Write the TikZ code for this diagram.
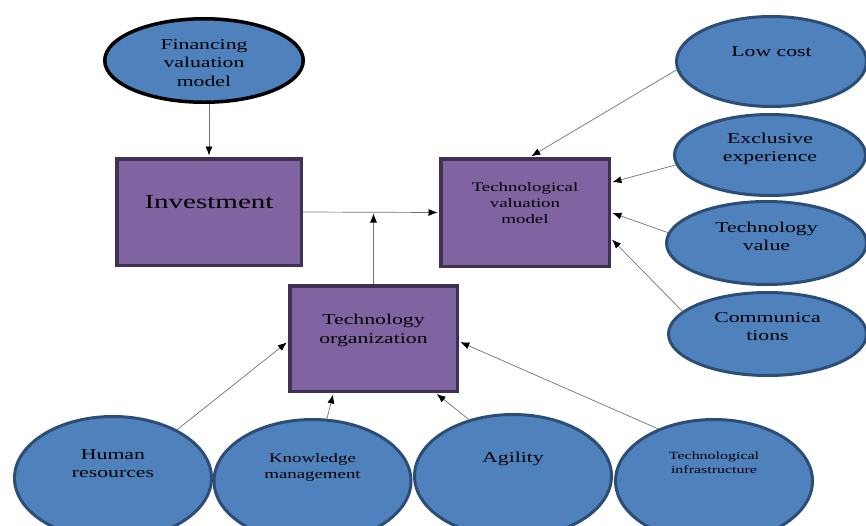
\documentclass[tikz,border=0pt]{standalone}
\usepackage{fontspec}
\setmainfont[FakeStretch=1.45]{Liberation Serif}
\usetikzlibrary{shapes.geometric,arrows.meta}
\definecolor{bubfill}{HTML}{4F81BD}
\definecolor{bubedge}{HTML}{2C4D75}
\definecolor{boxfill}{HTML}{8064A2}
\definecolor{boxedge}{HTML}{3F3151}
\begin{document}
\begin{tikzpicture}[x=1pt,y=-1pt,
	arrow/.style={>={Latex[length=9pt,width=7pt,black]},->,draw=black!55,line width=0.7pt,shorten >=1.5pt},
	bubble/.style={ellipse,draw=bubedge,line width=3pt,fill=bubfill,inner sep=0pt},
	panel/.style={rectangle,draw=boxedge,line width=3.5pt,fill=boxfill,inner sep=0pt},
	txt/.style={align=center,inner sep=0pt,text=black,font=\fontsize{15}{18}\selectfont}]
	\useasboundingbox (0,0) rectangle (866,525);
	%top
	\node[bubble,draw=black,line width=3.5pt,minimum width=198.5pt,minimum height=83.5pt] (fin) at (204,60.5) {};
	\node[txt,font=\fontsize{15}{18.5}\selectfont] (fint) at ([yshift=-2.5pt]fin) {Financing\\valuation\\model};
	%boxes
	\node[panel,minimum width=184.5pt,minimum height=106.5pt] (inv) at (209,212) {};
	\node[txt,font=\fontsize{20}{24}\selectfont] (invt) at ([yshift=10pt]inv) {Investment};
	\node[panel,minimum width=168.5pt,minimum height=107.5pt] (tvm) at (525,212.5) {};
	\node[txt,font=\fontsize{13}{16}\selectfont] (tvmt) at ([yshift=9pt]tvm) {Technological\\valuation\\model};
	\node[panel,minimum width=167.5pt,minimum height=105.5pt] (org) at (373.5,338.5) {};
	\node[txt,font=\fontsize{15}{19}\selectfont] (orgt) at ([yshift=8pt]org) {Technology\\organization};
	%right
	\foreach \nm/\x/\y/\w/\h/\sh/\txt in {lc/771.5/61.5/190/90/9.5/{Low cost},ex/770/155/191/81/6/{Exclusive\\experience},tv/766.5/243/200/83/6.5/{Technology\\value},cm/767.5/334/198/83/7.5/{Communica\\tions}}
	{\node[bubble,minimum width=\w pt,minimum height=\h pt] (\nm) at (\x,\y) {};
	\node[txt] (\nm t) at ([yshift=\sh pt]\nm) {\txt};}
	%bottom
	\foreach \nm/\x/\y/\sh/\fs/\bs/\txt in {hr/113/478/14/15/18/{Human\\resources},km/312.5/481/14/13/16/{Knowledge\\management},ag/513/476/17/15/18/{Agility},ti/714/481/18/11/14/{Technological\\infrastructure}}
	{\node[bubble,minimum width=197pt,minimum height=123pt] (\nm) at (\x,\y) {};
	\node[txt,font=\fontsize{\fs}{\bs}\selectfont] (\nm t) at ([yshift=\sh pt]\nm) {\txt};}
	%arrows
	\draw[arrow] (inv.north |- fin.south)--(inv.north);
	\draw[arrow] (inv.east)--(tvm.west);
	\draw[arrow] (org.north)--(org.north |- inv.east);
	\draw[arrow] (lc.185)--([xshift=5pt]tvm.north);
	\draw[arrow] (ex.186)--([yshift=30pt]tvm.east);
	\draw[arrow] (tv.174)--(tvm.east);
	\draw[arrow] (cm.165)--([yshift=-26pt]tvm.east);
	\draw[arrow] (hr.37)--([yshift=-3pt]org.west);
	\draw[arrow] (km.77)--([xshift=-40pt]org.south);
	\draw[arrow] (ag.128)--([xshift=62pt]org.south);
	\draw[arrow] (ti.137)--([yshift=-3pt]org.east);
\end{tikzpicture}
\end{document}
